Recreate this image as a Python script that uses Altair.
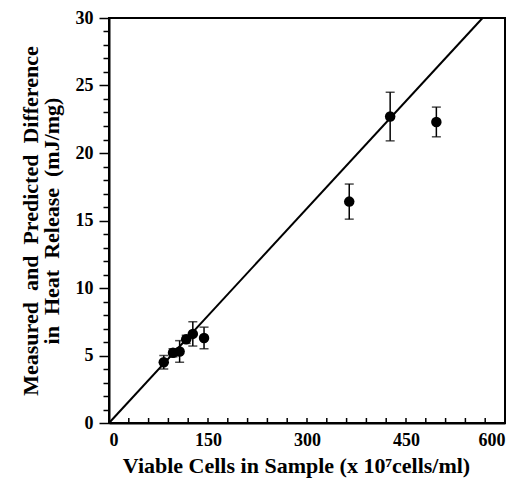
import altair as alt
import pandas as pd

# data
cells = [83, 97, 107, 117, 127, 144, 364, 426, 496]
heat = [4.5, 5.2, 5.3, 6.2, 6.6, 6.3, 16.4, 22.7, 22.3]
err = [0.5, 0.3, 0.8, 0.3, 0.9, 0.8, 1.3, 1.8, 1.1]

line_x = [0, 566]
line_y = [0, 30]

x_major = [0, 150, 300, 450, 600]
x_minor = list(range(0, 601, 30))
y_ticks = list(range(0, 31, 1))

W, H = 396, 405
FONT = "Liberation Serif"
SP = "\u2002"

df = pd.DataFrame({"x": cells, "y": heat, "lo": [a - b for a, b in zip(heat, err)],
                   "hi": [a + b for a, b in zip(heat, err)]})
dline = pd.DataFrame({"x": line_x, "y": line_y})
dtick = pd.DataFrame({"x": x_minor})

xscale = alt.Scale(domain=[0, 600], nice=False, zero=False)
yscale = alt.Scale(domain=[0, 30], nice=False, zero=False)

xaxis = alt.Axis(values=x_major, ticks=False, grid=False,
                 labelPadding=8,
                 title="Viable Cells in Sample (x 10⁷cells/ml)",
                 titleFontSize=22, titlePadding=6, titleX=187)
yaxis = alt.Axis(values=y_ticks, grid=False, ticks=True,
                 tickSize={"condition": {"test": "datum.value % 5 == 0", "value": 10}, "value": 6},
                 tickColor="black", tickWidth=1.5,
                 labelExpr="datum.value % 5 == 0 ? datum.label : ''",
                 labelPadding=6,
                 title=[SP.join(["Measured", "and", "Predicted", "Difference"]),
                        SP.join(["in", "Heat", "Release", "(mJ/mg)"])],
                 titleFontSize=22, titlePadding=12, titleLineHeight=21)

X = alt.X("x:Q", scale=xscale, axis=xaxis)

line = alt.Chart(dline).mark_line(color="black", strokeWidth=2).encode(
    x=X, y=alt.Y("y:Q", scale=yscale, axis=yaxis))

ticks = alt.Chart(dtick).mark_rule(color="black", strokeWidth=1.5).encode(
    x=X, y=alt.value(H), y2=alt.value(H - 5))

bars = alt.Chart(df).mark_rule(color="black", strokeWidth=1.5).encode(
    x=X, y=alt.Y("lo:Q", scale=yscale, axis=yaxis), y2="hi:Q")
caps_lo = alt.Chart(df).mark_tick(color="black", orient="horizontal", size=9, thickness=1.5).encode(
    x=X, y=alt.Y("lo:Q", scale=yscale, axis=yaxis))
caps_hi = alt.Chart(df).mark_tick(color="black", orient="horizontal", size=9, thickness=1.5).encode(
    x=X, y=alt.Y("hi:Q", scale=yscale, axis=yaxis))
pts = alt.Chart(df).mark_circle(color="black", opacity=1, size=110).encode(
    x=X, y=alt.Y("y:Q", scale=yscale, axis=yaxis))

top = alt.Chart(dline).mark_rule(color="black", strokeWidth=2).encode(
    x=alt.value(0), x2=alt.value(W), y=alt.value(0))
right = alt.Chart(dline).mark_rule(color="black", strokeWidth=2).encode(
    x=alt.value(W), y=alt.value(0), y2=alt.value(H))

chart = alt.layer(line, ticks, bars, caps_lo, caps_hi, pts, top, right).properties(
    width=W, height=H,
    autosize=alt.AutoSizeParams(type="none"),
    padding={"left": 101, "top": 10, "right": 10, "bottom": 60},
    background="white",
).configure_view(stroke="black", strokeWidth=2).configure_axis(
    domainColor="black", domainWidth=2,
    labelFont=FONT, labelFontSize=18, labelFontWeight="bold", labelColor="black",
    labelOverlap=False, titleFont=FONT, titleFontWeight="bold", titleColor="black",
)

chart.save("out.html", embed_options={"renderer": "svg", "actions": False})
